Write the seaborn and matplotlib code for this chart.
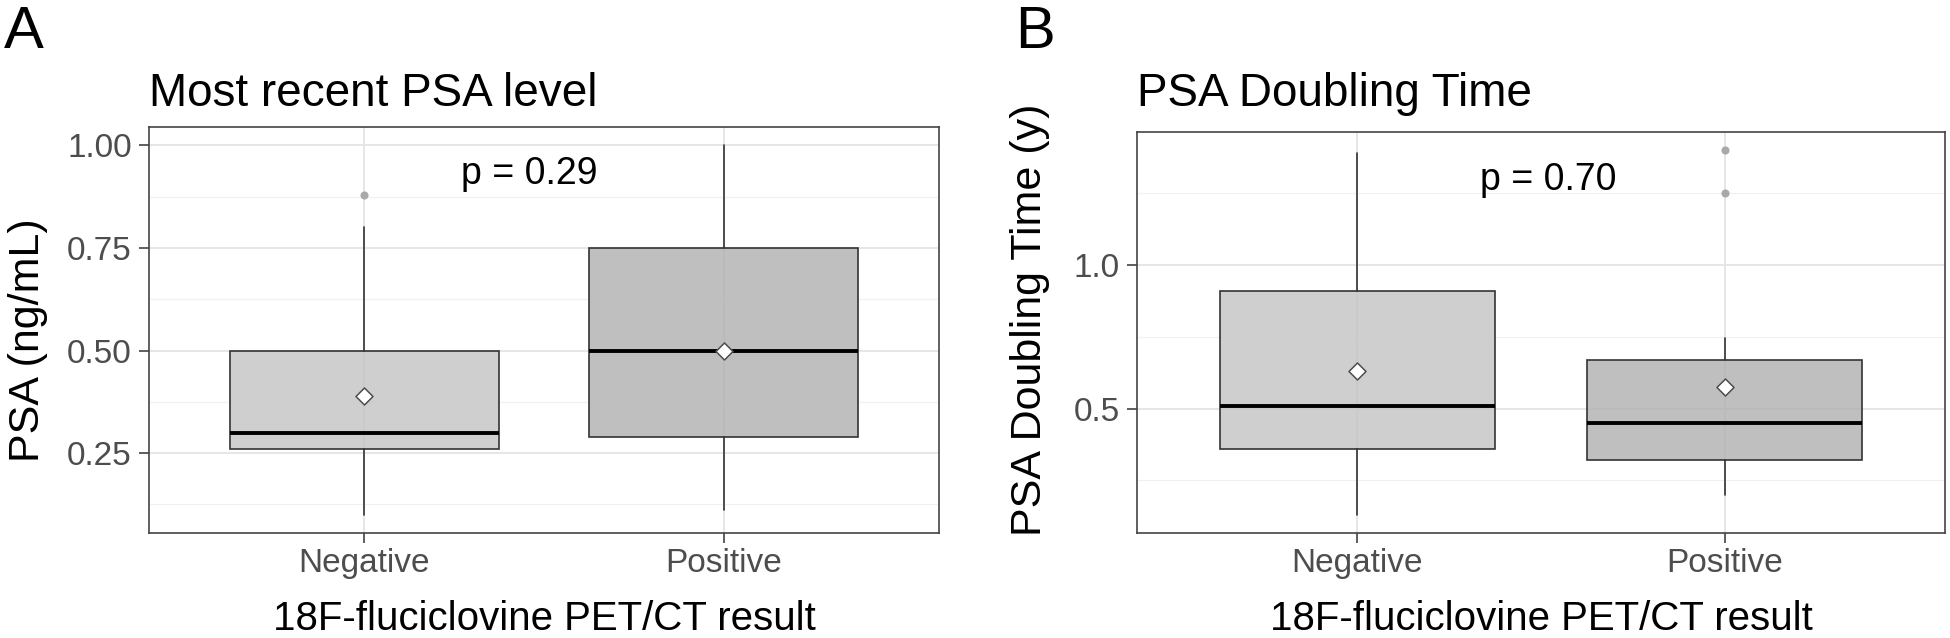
import numpy as np
import pandas as pd
import matplotlib
matplotlib.use("Agg")
import matplotlib.pyplot as plt
import seaborn as sns
from matplotlib.colors import to_rgba
from matplotlib.ticker import MultipleLocator, FormatStrFormatter

GROUPS = ["Negative", "Positive"]
BOX_FILLS = ["#c4c4c4", "#b0b0b0"]

# Panel A - most recent PSA level (ng/mL), box summary per group
PSA_LOWER = [0.10, 0.11]
PSA_Q1 = [0.26, 0.29]
PSA_MEDIAN = [0.30, 0.50]
PSA_Q3 = [0.50, 0.75]
PSA_UPPER = [0.80, 1.00]
PSA_MEAN = [0.39, 0.50]
PSA_OUTLIERS = [[0.88], []]
PSA_P = "p = 0.29"

# Panel B - PSA doubling time (years)
PSADT_LOWER = [0.13, 0.20]
PSADT_Q1 = [0.36, 0.32]
PSADT_MEDIAN = [0.51, 0.45]
PSADT_Q3 = [0.91, 0.67]
PSADT_UPPER = [1.39, 0.745]
PSADT_MEAN = [0.63, 0.575]
PSADT_OUTLIERS = [[], [1.25, 1.40]]
PSADT_P = "p = 0.70"

X_TITLE = "18F-fluciclovine PET/CT result"

sns.set_theme(style="whitegrid")
plt.rcParams["font.family"] = ["Liberation Sans", "DejaVu Sans"]

W, H = 1950, 638
fig = plt.figure(figsize=(W / 100, H / 100), dpi=100)
fig.patch.set_facecolor("white")


def px_box(left, top, right, bottom):
    return [left / W, 1 - bottom / H, (right - left) / W, (bottom - top) / H]


def draw_panel(ax, lower, q1, med, q3, upper, mean, outliers, major, fmt, ptext, pxy):
    positions = np.arange(1, len(GROUPS) + 1)
    stats = []
    for i, g in enumerate(GROUPS):
        stats.append(dict(label=g, med=med[i], q1=q1[i], q3=q3[i],
                          whislo=lower[i], whishi=upper[i], fliers=[]))
    bp = ax.bxp(stats, positions=positions, widths=0.75, patch_artist=True,
                showcaps=False, showfliers=False, manage_ticks=False,
                boxprops=dict(edgecolor="#333333", linewidth=1.2),
                medianprops=dict(color="black", linewidth=2.8),
                whiskerprops=dict(color="#333333", linewidth=1.2))
    for patch, c in zip(bp["boxes"], BOX_FILLS):
        patch.set_facecolor(to_rgba(c, 0.8))
        patch.set_zorder(2)

    # outliers
    out = pd.DataFrame([(positions[i], v) for i, vals in enumerate(outliers) for v in vals],
                       columns=["x", "y"])
    if len(out):
        sns.scatterplot(data=out, x="x", y="y", ax=ax, color="#a9a9a9", s=34,
                        linewidth=0, zorder=3, legend=False)

    # group means
    means = pd.DataFrame({"x": positions, "y": mean})
    sns.scatterplot(data=means, x="x", y="y", ax=ax, marker="D", s=75,
                    color="white", edgecolor="#4d4d4d", linewidth=1.1,
                    zorder=5, legend=False)

    allv = lower + upper + [v for vals in outliers for v in vals]
    lo, hi = min(allv), max(allv)
    pad = (hi - lo) * 0.05
    ax.set_ylim(lo - pad, hi + pad)
    ax.set_xlim(0.4, len(GROUPS) + 0.6)

    ax.set_xticks(positions)
    ax.set_xticklabels(GROUPS)
    ax.yaxis.set_major_locator(MultipleLocator(major))
    ax.yaxis.set_minor_locator(MultipleLocator(major / 2))
    ax.yaxis.set_major_formatter(FormatStrFormatter(fmt))

    ax.set_axisbelow(True)
    ax.grid(which="major", color="#e6e6e6", linewidth=1.4)
    ax.grid(which="minor", axis="y", color="#f1f1f1", linewidth=0.9)
    ax.tick_params(which="major", length=7.5, width=1.1, color="#333333",
                   labelsize=24, labelcolor="#4d4d4d", bottom=True, left=True)
    ax.tick_params(which="minor", length=0)
    ax.tick_params(axis="x", pad=3)
    ax.tick_params(axis="y", pad=5)
    for sp in ax.spines.values():
        sp.set_color("#444444")
        sp.set_linewidth(1.2)
        sp.set_visible(True)
    ax.set_xlabel("")
    ax.set_ylabel("")
    ax.set_facecolor("white")

    ax.text(pxy[0], pxy[1], ptext, ha="center", va="baseline", fontsize=27,
            color="black")


axA = fig.add_axes(px_box(149, 127, 939, 533))
draw_panel(axA, PSA_LOWER, PSA_Q1, PSA_MEDIAN, PSA_Q3, PSA_UPPER, PSA_MEAN,
           PSA_OUTLIERS, 0.25, "%.2f", PSA_P, (1.46, 0.905))

axB = fig.add_axes(px_box(1137, 132, 1945, 533))
draw_panel(axB, PSADT_LOWER, PSADT_Q1, PSADT_MEDIAN, PSADT_Q3, PSADT_UPPER,
           PSADT_MEAN, PSADT_OUTLIERS, 0.5, "%.1f", PSADT_P, (1.52, 1.26))

# panel letters and titles
txt = dict(color="black")
fig.text(4 / W, 1 - 48 / H, "A", fontsize=43, va="baseline", ha="left", **txt)
fig.text(1015 / W, 1 - 48 / H, "B", fontsize=43, va="baseline", ha="left", **txt)
fig.text(149 / W, 1 - 106 / H, "Most recent PSA level", fontsize=33,
         va="baseline", ha="left", **txt)
fig.text(1137 / W, 1 - 106 / H, "PSA Doubling Time", fontsize=33,
         va="baseline", ha="left", **txt)

# axis titles
fig.text(544 / W, 1 - 630 / H, X_TITLE, fontsize=29, va="baseline", ha="center", **txt)
fig.text(1541 / W, 1 - 630 / H, X_TITLE, fontsize=29, va="baseline", ha="center", **txt)
fig.text(28 / W, 1 - 340 / H, "PSA (ng/mL)", fontsize=31, rotation=90,
         va="center", ha="center", rotation_mode="anchor", **txt)
fig.text(1030 / W, 1 - 320 / H, "PSA Doubling Time (y)", fontsize=31, rotation=90,
         va="center", ha="center", rotation_mode="anchor", **txt)

fig.savefig("out.png", dpi=100, facecolor="white")
